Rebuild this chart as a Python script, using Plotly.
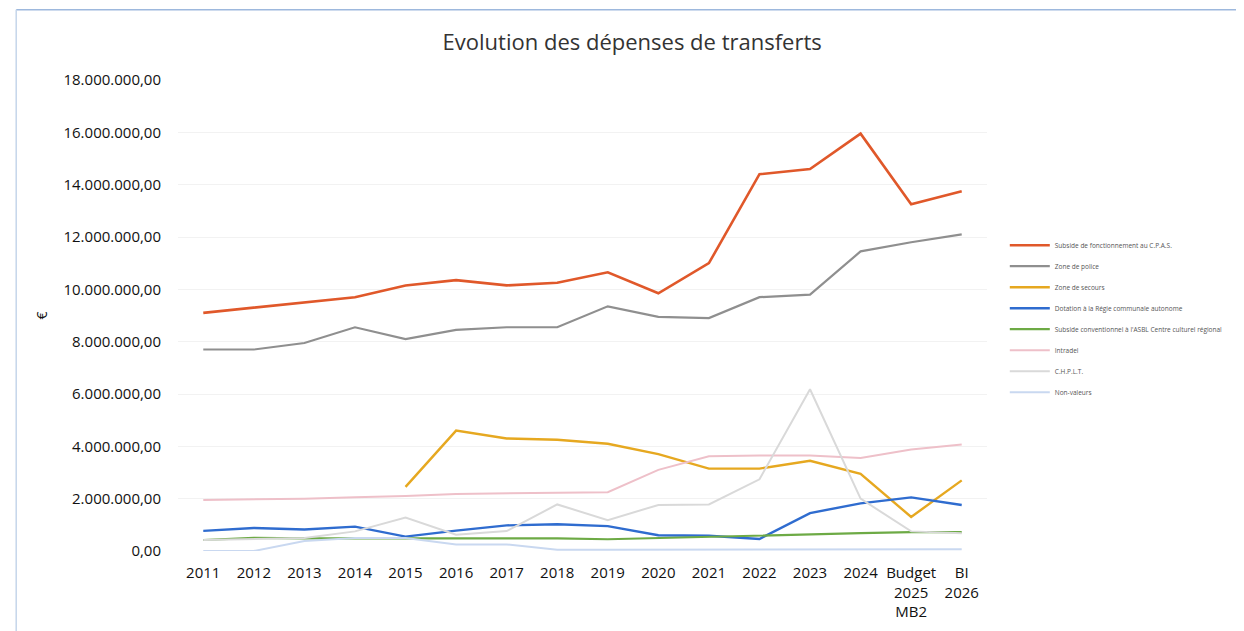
from plotly import graph_objects as go

# ----------------------données-------------------------------------------------------------------------------------
annees = ['2011', '2012', '2013', '2014', '2015', '2016', '2017', '2018', '2019', '2020',
          '2021', '2022', '2023', '2024', 'Budget<br>2025<br>MB2', 'BI<br>2026']

cpas = [9.1, 9.3, 9.5, 9.7, 10.15, 10.35, 10.15, 10.25, 10.65, 9.85,
        11.0, 14.4, 14.6, 15.95, 13.25, 13.75]
zone_police = [7.7, 7.7, 7.95, 8.55, 8.1, 8.45, 8.55, 8.55, 9.35, 8.95,
               8.9, 9.7, 9.8, 11.45, 11.8, 12.1]
zone_secours = [None, None, None, None, 2.45, 4.6, 4.3, 4.25, 4.1, 3.7,
                3.15, 3.15, 3.45, 2.95, 1.3, 2.7]
regie = [0.77, 0.88, 0.82, 0.93, 0.55, 0.78, 0.98, 1.02, 0.95, 0.6,
         0.58, 0.46, 1.45, 1.82, 2.05, 1.76]
centre_culturel = [0.42, 0.5, 0.48, 0.48, 0.48, 0.48, 0.48, 0.48, 0.45, 0.5,
                   0.55, 0.6, 0.65, 0.68, 0.72, 0.72]
intradel = [1.95, 1.97, 2.0, 2.05, 2.1, 2.18, 2.2, 2.22, 2.25, 3.1,
            3.62, 3.65, 3.65, 3.55, 3.88, 4.07]
chplt = [0.42, 0.45, 0.5, 0.75, 1.28, 0.62, 0.76, 1.78, 1.18, 1.76,
         1.78, 2.74, 6.18, 2.0, 0.75, 0.68]
non_valeurs = [0.0, 0.0, 0.38, 0.5, 0.5, 0.25, 0.25, 0.05, 0.05, 0.05,
               0.05, 0.05, 0.05, 0.05, 0.06, 0.07]

series = [
    ('Subside de fonctionnement au C.P.A.S.', cpas, '#E0582A', 2.6),
    ('Zone de police', zone_police, '#8F8F8F', 2.2),
    ('Zone de secours', zone_secours, '#E6A820', 2.4),
    ('Dotation à la Régie communale autonome', regie, '#2F6CCF', 2.4),
    ("Subside conventionnel à l'ASBL Centre culturel régional", centre_culturel, '#6DAA45', 2.2),
    ('Intradel', intradel, '#EEC0C9', 2),
    ('C.H.P.L.T.', chplt, '#D9D9D9', 2),
    ('Non-valeurs', non_valeurs, '#C9D8F0', 2),
]

# ----------------------graphique-----------------------------------------------------------------------------------
# la page html a une marge de 8px : la figure est réduite d'autant
fig = go.Figure()
for i, (nom, valeurs, couleur, largeur) in enumerate(series):
    fig.add_trace(go.Scatter(x=annees, y=[v * 1e6 if v is not None else None for v in valeurs],
                             name=nom, mode='lines', legendgroup=str(i),
                             line=dict(color=couleur, width=largeur)))

fig.update_layout(
    width=1236, height=623,
    margin=dict(l=170, r=257, t=72, b=80, autoexpand=False),
    paper_bgcolor='white', plot_bgcolor='white',
    separators=',.',
    font=dict(family='Open Sans', color='#111'),
    title=dict(text='Evolution des dépenses de transferts', x=0.505, xanchor='center',
               y=0.9454, yanchor='middle', font=dict(size=22, color='#333')),
    legend=dict(x=1.022, y=0.68, xanchor='left', yanchor='top',
                font=dict(size=6.5, color='#555'), tracegroupgap=2,
                traceorder='grouped', itemwidth=40),
    xaxis=dict(type='category', range=[-0.5, 15.5], showgrid=False, showline=False,
               ticks='', ticklabelstandoff=11, tickfont=dict(size=15, color='#111')),
    yaxis=dict(range=[0, 18e6], dtick=2e6, tickformat=',.2f',
               gridcolor='#F2F2F2', zeroline=False, showline=False,
               ticklabelstandoff=16, tickfont=dict(size=15, color='#111'),
               title=dict(text='€', font=dict(size=14), standoff=12)),
    shapes=[
        dict(type='line', xref='paper', yref='paper', x0=-0.2, x1=1.32, y0=1.149, y1=1.149,
             line=dict(color='#9DB8DD', width=1.5)),
        dict(type='line', xref='paper', yref='paper', x0=-0.2, x1=-0.2, y0=1.149, y1=-0.2,
             line=dict(color='#C5D5EA', width=1.5)),
    ],
)

fig.write_html('out.html')
